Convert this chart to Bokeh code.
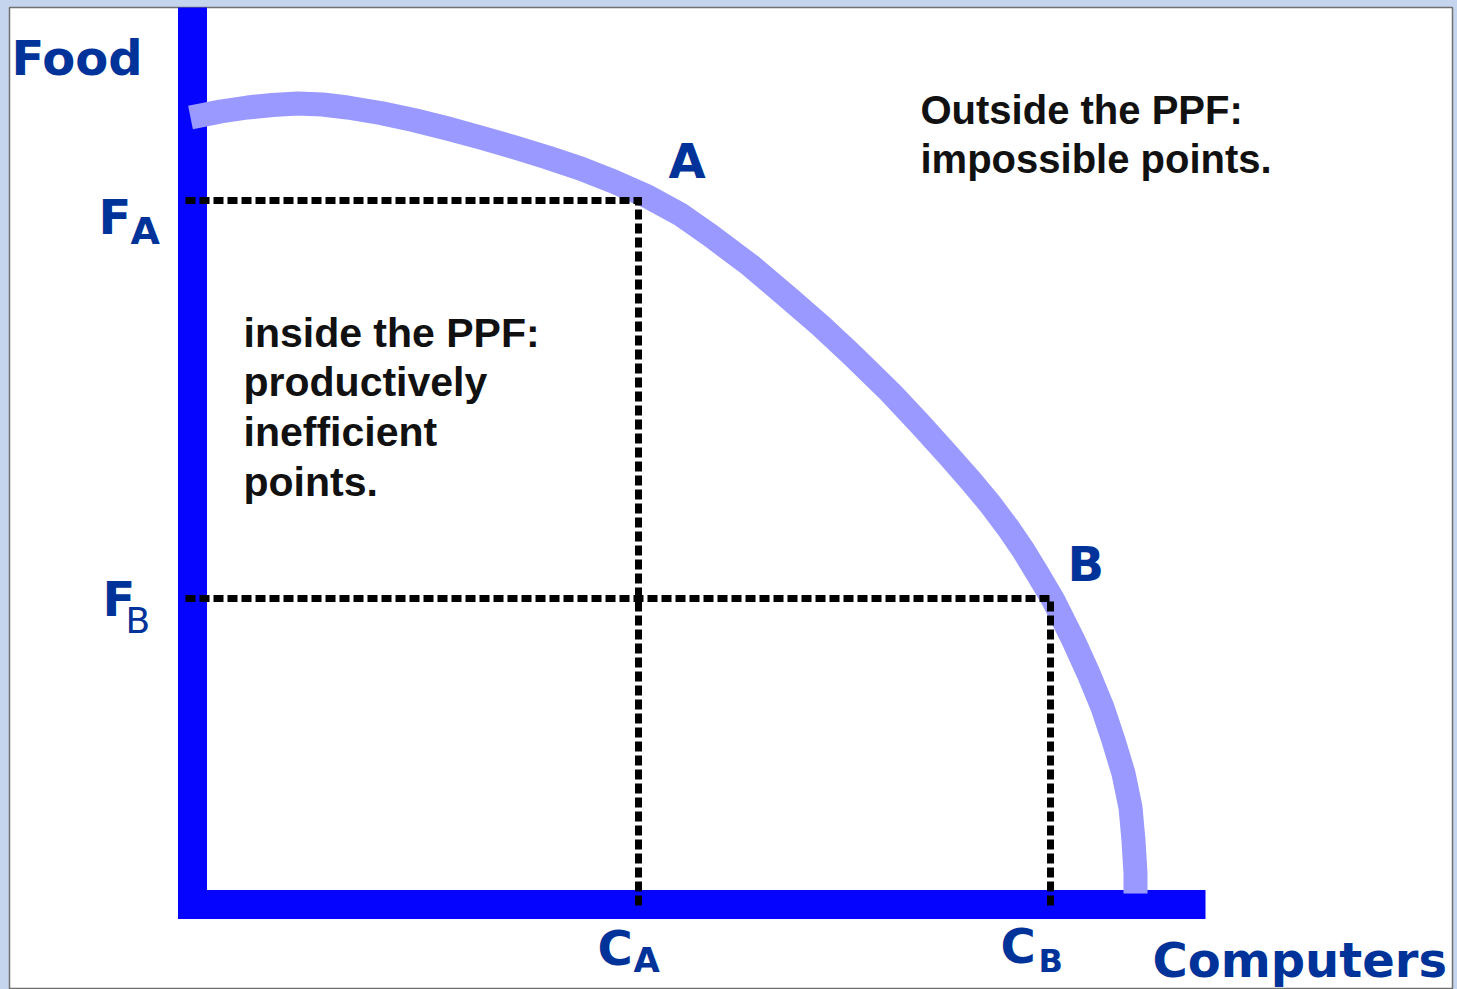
from bokeh.plotting import figure
from bokeh.models import Range1d, GlobalInlineStyleSheet
from bokeh.core.properties import value
from bokeh.embed import file_html
from bokeh.resources import INLINE

# ---------------- data (Computers on x, Food on y) ----------------
ppf_computers = [-0.2, 2.8, 5.5, 8.0, 10.5, 13.0, 15.5, 18.8, 22.1, 25.5, 28.8,
                 32.1, 35.5, 38.8, 42.1, 45.5, 48.8, 51.8, 55.8, 59.8, 62.8,
                 65.8, 69.8, 72.8, 75.6, 77.8, 79.8, 81.6, 83.1, 84.5, 86.1,
                 87.1, 88.1, 89.6, 91.0, 92.1, 93.1, 93.8, 94.1, 94.3, 94.3]
ppf_food = [78.7, 79.3, 79.7, 79.95, 80.1, 80.0, 79.7, 79.15, 78.45, 77.6, 76.7,
            75.75, 74.7, 73.6, 72.3, 70.8, 69.0, 66.9, 63.9, 60.5, 57.9,
            55.1, 51.2, 48.0, 44.9, 42.4, 40.0, 37.6, 35.4, 33.1, 30.4,
            28.4, 26.4, 23.1, 19.7, 16.4, 13.1, 9.7, 6.4, 3.1, 1.1]

point_names = ["A", "B"]
point_computers = [44.6, 85.8]   # C_A, C_B
point_food = [70.4, 30.6]        # F_A, F_B

axis_x_end = 101.3
axis_y_end = 95.0

# ---------------- layout ----------------
PX = 10.0                 # pixels per data unit
OX, OY = 192.0, 904.0     # page position of the origin
W, H = 1457, 989
BL, BT, BR = 9, 7, 5      # light-blue page border around the white card


def dx(px):
    return (px - OX) / PX


def dy(py):
    return (OY - py) / PX


x_range = Range1d(dx(BL), dx(W - BR))
y_range = Range1d(dy(H), dy(BT))

p = figure(width=W, height=H, x_range=x_range, y_range=y_range,
           x_axis_type=None, y_axis_type=None, output_backend="svg",
           toolbar_location=None, min_border_left=BL, min_border_top=BT,
           min_border_right=BR, min_border_bottom=0)
p.grid.visible = False
p.background_fill_color = "white"
p.border_fill_color = "#c5d5ee"
p.outline_line_color = "#707070"
p.outline_line_width = 1.5
p.stylesheets = [GlobalInlineStyleSheet(css="body { background-color: #c5d5ee; }")]

AXIS_BLUE = "#0505ff"
PPF_BLUE = "#9999ff"
LABEL_BLUE = "#003399"
half_axis = 1.45

# axes (thick blue bars)
p.line([0, 0], [-half_axis, axis_y_end], line_color=AXIS_BLUE, line_width=29, line_cap="butt")
p.line([-half_axis, axis_x_end], [0, 0], line_color=AXIS_BLUE, line_width=29, line_cap="butt")

# PPF curve
p.line(ppf_computers, ppf_food, line_color=PPF_BLUE, line_width=24,
       line_cap="butt", line_join="round")

# dashed guide lines
dash_start = -0.7
dash_end = -0.5
for c, f in zip(point_computers, point_food):
    p.line([dash_start, c, c], [f, f, dash_end], line_color="black", line_width=7,
           line_dash="10 4", line_cap="butt", line_join="miter")


# ---------------- texts ----------------
def txt(x_px, base_px, t, size, color, font="DejaVu Sans", style="bold"):
    # baseline correction for the renderer's alphabetic baseline placement
    corr = 5 + 0.25 * size
    p.text(x=[dx(x_px)], y=[dy(base_px - corr)], text=[t], text_font=value(font),
           text_font_size=f"{size}px", text_font_style=style, text_color=color,
           text_align="left", text_baseline="alphabetic")


# axis titles
txt(11, 74, "Food", 48, LABEL_BLUE)
txt(1152, 976, "Computers", 48, LABEL_BLUE)

# point labels
txt(668, 177, point_names[0], 48, LABEL_BLUE)
txt(1067, 580, point_names[1], 48, LABEL_BLUE)

# F_A, F_B
txt(98, 233, "F", 48, LABEL_BLUE)
txt(130, 245, "A", 38, LABEL_BLUE)
txt(102, 615, "F", 48, LABEL_BLUE)
txt(125, 634, "B", 36, LABEL_BLUE, style="normal")

# C_A, C_B
txt(597, 964, "C", 48, LABEL_BLUE)
txt(633, 973, "A", 34, LABEL_BLUE)
txt(1000, 962, "C", 48, LABEL_BLUE)
txt(1038, 973, "B", 32, LABEL_BLUE)

# annotations
outside_lines = ["Outside the PPF:", "impossible points."]
outside_base = [124, 173]
for t, b in zip(outside_lines, outside_base):
    txt(920, b, t, 40, "#111111", font="Liberation Sans")

inside_lines = ["inside the PPF:", "productively", "inefficient", "points."]
inside_base = [348, 397, 447, 497]
for t, b in zip(inside_lines, inside_base):
    txt(243, b, t, 41, "#111111", font="Liberation Sans")

open("out.html", "w").write(file_html(p, INLINE))
